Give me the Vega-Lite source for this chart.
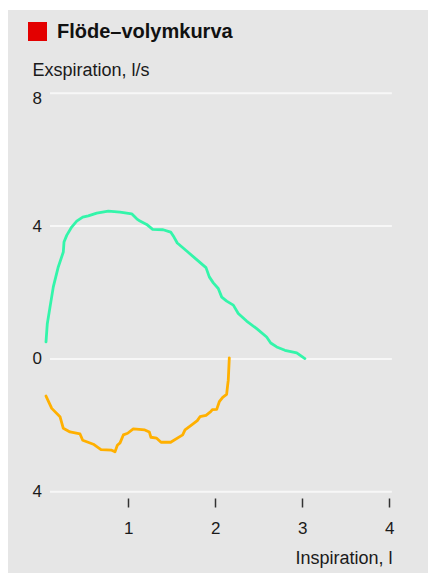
{
  "$schema": "https://vega.github.io/schema/vega-lite/v6.json",
  "width": 420,
  "height": 563,
  "autosize": {"type": "none"},
  "padding": {"left": 8, "top": 10, "right": 0, "bottom": 0},
  "background": "white",
  "title": {
    "text": "Flöde–volymkurva",
    "anchor": "start",
    "frame": "group",
    "font": "Liberation Sans",
    "fontSize": 20,
    "fontWeight": "bold",
    "color": "#111111",
    "baseline": "alphabetic",
    "offset": -48,
    "dx": 49
  },
  "config": {
    "view": {"fill": "#e6e6e6", "stroke": null},
    "axis": {"labelFont": "Liberation Sans", "titleFont": "Liberation Sans", "labelColor": "#1a1a1a", "titleColor": "#1a1a1a", "titleFontWeight": "normal"}
  },
  "datasets": {
    "curves": [
      {"series": "Exspiration", "vol": 0.054, "flow": 0.51},
      {"series": "Exspiration", "vol": 0.069, "flow": 1.06},
      {"series": "Exspiration", "vol": 0.10, "flow": 1.56},
      {"series": "Exspiration", "vol": 0.138, "flow": 2.17},
      {"series": "Exspiration", "vol": 0.195, "flow": 2.77},
      {"series": "Exspiration", "vol": 0.253, "flow": 3.22},
      {"series": "Exspiration", "vol": 0.261, "flow": 3.52},
      {"series": "Exspiration", "vol": 0.292, "flow": 3.72},
      {"series": "Exspiration", "vol": 0.349, "flow": 3.97},
      {"series": "Exspiration", "vol": 0.407, "flow": 4.15},
      {"series": "Exspiration", "vol": 0.476, "flow": 4.27},
      {"series": "Exspiration", "vol": 0.54, "flow": 4.31},
      {"series": "Exspiration", "vol": 0.637, "flow": 4.39},
      {"series": "Exspiration", "vol": 0.77, "flow": 4.45},
      {"series": "Exspiration", "vol": 0.905, "flow": 4.42},
      {"series": "Exspiration", "vol": 1.039, "flow": 4.37},
      {"series": "Exspiration", "vol": 1.097, "flow": 4.22},
      {"series": "Exspiration", "vol": 1.134, "flow": 4.15},
      {"series": "Exspiration", "vol": 1.211, "flow": 4.05},
      {"series": "Exspiration", "vol": 1.28, "flow": 3.90},
      {"series": "Exspiration", "vol": 1.40, "flow": 3.89},
      {"series": "Exspiration", "vol": 1.487, "flow": 3.82},
      {"series": "Exspiration", "vol": 1.525, "flow": 3.67},
      {"series": "Exspiration", "vol": 1.563, "flow": 3.49},
      {"series": "Exspiration", "vol": 1.671, "flow": 3.25},
      {"series": "Exspiration", "vol": 1.786, "flow": 2.99},
      {"series": "Exspiration", "vol": 1.893, "flow": 2.75},
      {"series": "Exspiration", "vol": 1.931, "flow": 2.47},
      {"series": "Exspiration", "vol": 1.977, "flow": 2.29},
      {"series": "Exspiration", "vol": 2.034, "flow": 2.12},
      {"series": "Exspiration", "vol": 2.074, "flow": 1.86},
      {"series": "Exspiration", "vol": 2.131, "flow": 1.74},
      {"series": "Exspiration", "vol": 2.207, "flow": 1.62},
      {"series": "Exspiration", "vol": 2.264, "flow": 1.37},
      {"series": "Exspiration", "vol": 2.36, "flow": 1.14},
      {"series": "Exspiration", "vol": 2.476, "flow": 0.91},
      {"series": "Exspiration", "vol": 2.59, "flow": 0.66},
      {"series": "Exspiration", "vol": 2.637, "flow": 0.48},
      {"series": "Exspiration", "vol": 2.706, "flow": 0.36},
      {"series": "Exspiration", "vol": 2.80, "flow": 0.26},
      {"series": "Exspiration", "vol": 2.936, "flow": 0.18},
      {"series": "Exspiration", "vol": 3.03, "flow": 0.01},
      {"series": "Inspiration", "vol": 0.054, "flow": -1.12},
      {"series": "Inspiration", "vol": 0.12, "flow": -1.49},
      {"series": "Inspiration", "vol": 0.215, "flow": -1.74},
      {"series": "Inspiration", "vol": 0.253, "flow": -2.09},
      {"series": "Inspiration", "vol": 0.33, "flow": -2.20},
      {"series": "Inspiration", "vol": 0.445, "flow": -2.26},
      {"series": "Inspiration", "vol": 0.476, "flow": -2.45},
      {"series": "Inspiration", "vol": 0.598, "flow": -2.57},
      {"series": "Inspiration", "vol": 0.686, "flow": -2.73},
      {"series": "Inspiration", "vol": 0.809, "flow": -2.75},
      {"series": "Inspiration", "vol": 0.847, "flow": -2.80},
      {"series": "Inspiration", "vol": 0.874, "flow": -2.60},
      {"series": "Inspiration", "vol": 0.905, "flow": -2.53},
      {"series": "Inspiration", "vol": 0.943, "flow": -2.29},
      {"series": "Inspiration", "vol": 0.993, "flow": -2.24},
      {"series": "Inspiration", "vol": 1.057, "flow": -2.11},
      {"series": "Inspiration", "vol": 1.19, "flow": -2.14},
      {"series": "Inspiration", "vol": 1.241, "flow": -2.20},
      {"series": "Inspiration", "vol": 1.26, "flow": -2.36},
      {"series": "Inspiration", "vol": 1.326, "flow": -2.39},
      {"series": "Inspiration", "vol": 1.376, "flow": -2.51},
      {"series": "Inspiration", "vol": 1.487, "flow": -2.51},
      {"series": "Inspiration", "vol": 1.625, "flow": -2.29},
      {"series": "Inspiration", "vol": 1.652, "flow": -2.14},
      {"series": "Inspiration", "vol": 1.729, "flow": -1.99},
      {"series": "Inspiration", "vol": 1.793, "flow": -1.86},
      {"series": "Inspiration", "vol": 1.824, "flow": -1.74},
      {"series": "Inspiration", "vol": 1.893, "flow": -1.70},
      {"series": "Inspiration", "vol": 1.947, "flow": -1.59},
      {"series": "Inspiration", "vol": 1.966, "flow": -1.53},
      {"series": "Inspiration", "vol": 2.016, "flow": -1.52},
      {"series": "Inspiration", "vol": 2.046, "flow": -1.29},
      {"series": "Inspiration", "vol": 2.085, "flow": -1.16},
      {"series": "Inspiration", "vol": 2.13, "flow": -1.07},
      {"series": "Inspiration", "vol": 2.142, "flow": -0.79},
      {"series": "Inspiration", "vol": 2.149, "flow": -0.64},
      {"series": "Inspiration", "vol": 2.161, "flow": 0.03}
    ]
  },
  "layer": [
    {
      "data": {"values": [{"flow": 8}, {"flow": 4}, {"flow": 0}, {"flow": -4}]},
      "mark": {"type": "rule", "color": "#f7f7f7", "strokeWidth": 2},
      "encoding": {
        "y": {"field": "flow", "type": "quantitative", "scale": {"domain": [-6.449, 10.509], "nice": false, "zero": false}},
        "x": {"datum": 0.1, "type": "quantitative", "scale": {"domain": [-0.3828, 4.4448], "nice": false, "zero": false}},
        "x2": {"datum": 4.03}
      }
    },
    {
      "data": {"name": "curves"},
      "mark": {"type": "line", "strokeWidth": 2.8, "strokeJoin": "round", "strokeCap": "round"},
      "encoding": {
        "x": {
          "field": "vol", "type": "quantitative",
          "scale": {"domain": [-0.3828, 4.4448], "nice": false, "zero": false},
          "axis": {
            "title": "Inspiration, l", "values": [1, 2, 3, 4], "format": "d", "grid": false, "domain": false,
            "offset": -75, "tickSize": 9, "tickWidth": 1.5, "tickColor": "#333333",
            "labelFontSize": 17, "labelPadding": 13,
            "titleFontSize": 18, "titleX": 384, "titleY": 65, "titleAlign": "right", "titleBaseline": "alphabetic", "titleAnchor": "end"
          }
        },
        "y": {
          "field": "flow", "type": "quantitative",
          "scale": {"domain": [-6.449, 10.509], "nice": false, "zero": false},
          "axis": {
            "title": "Exspiration, l/s", "values": [8, 4, 0, -4], "labelExpr": "abs(datum.value)",
            "grid": false, "domain": false, "ticks": false, "tickSize": 0,
            "offset": -24, "labelAlign": "left", "labelBaseline": "middle", "labelPadding": 0,
            "labelOffset": {"condition": {"test": "datum.value == 8", "value": 5}, "value": 0},
            "labelFontSize": 17,
            "titleFontSize": 18, "titleAngle": 0, "titleX": 0, "titleY": 65, "titleAlign": "left", "titleBaseline": "alphabetic", "titleAnchor": "start"
          }
        },
        "color": {
          "field": "series", "type": "nominal",
          "scale": {"domain": ["Exspiration", "Inspiration"], "range": ["#33f5aa", "#ffb000"]},
          "legend": null
        }
      }
    },
    {
      "data": {"values": [{"label": "Flöde–volymkurva"}]},
      "mark": {"type": "point", "shape": "square", "filled": true, "color": "#e30000", "size": 361, "opacity": 1, "strokeWidth": 0},
      "encoding": {
        "x": {"datum": -0.0437, "type": "quantitative"},
        "y": {"datum": 9.861, "type": "quantitative"}
      }
    }
  ]
}
